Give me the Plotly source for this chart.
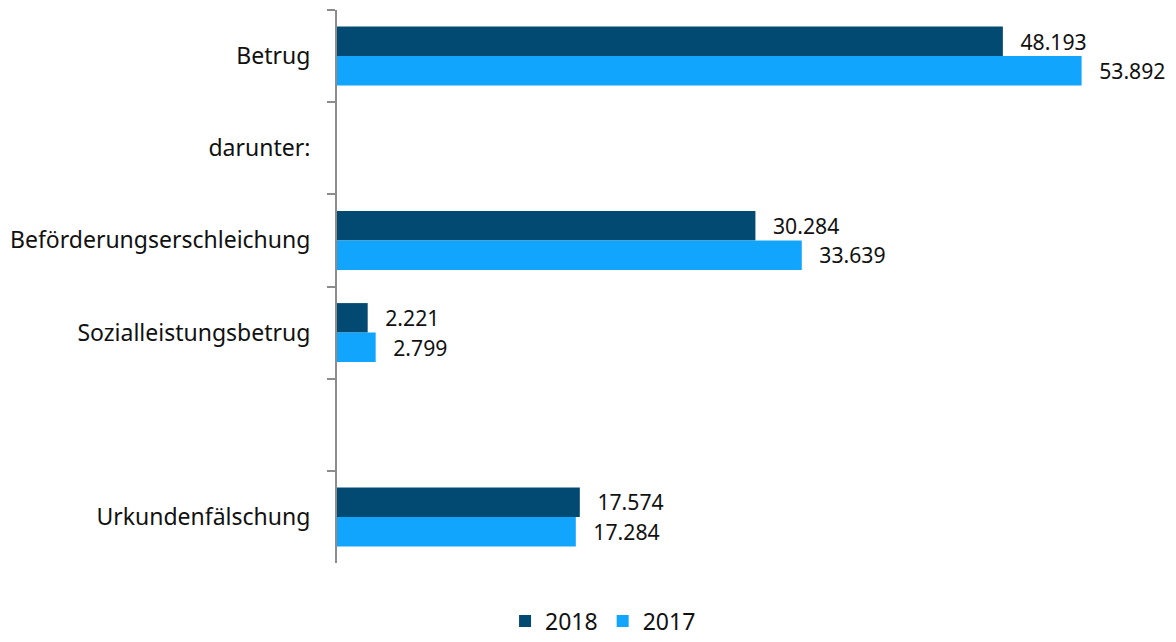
import plotly.graph_objects as go

categories = ["Betrug", "darunter:", "Beförderungserschleichung", "Sozialleistungsbetrug", " ", "Urkundenfälschung"]
values_2018 = [48193, None, 30284, 2221, None, 17574]
values_2017 = [53892, None, 33639, 2799, None, 17284]
series_names = ["2018", "2017"]
colors = ["#034A73", "#12A5FE"]

pad = "\u00a0\u00a0\u2009"
fig = go.Figure()
for name, vals, col in zip(series_names, [values_2018, values_2017], colors):
    fig.add_trace(go.Bar(
        y=categories, x=vals, name=name, orientation="h",
        marker=dict(color=col, line=dict(width=0)),
        texttemplate=pad + "%{x:,}", textposition="outside",
        textfont=dict(size=23, color="#111111"), cliponaxis=False,
    ))

fig.update_layout(
    width=1176, height=642,
    margin=dict(l=325, r=18, t=2, b=87),
    plot_bgcolor="white", paper_bgcolor="white",
    font=dict(family="Noto Sans", size=23, color="#111111"),
    barmode="group", bargap=0.36, bargroupgap=0,
    separators=",.",
    showlegend=True,
    legend=dict(orientation="h", xref="container", yref="container", x=0.506, xanchor="center",
                y=0.045, yanchor="middle", font=dict(size=23), traceorder="normal",
                itemwidth=30, tracegroupgap=0),
    xaxis=dict(range=[0, 60000], visible=False),
    yaxis=dict(autorange="reversed", showline=True, linecolor="#8c8c8c", linewidth=2,
               ticks="outside", tickson="boundaries", ticklen=8, tickcolor="#8c8c8c", tickwidth=2,
               ticklabelstandoff=20, showgrid=False, zeroline=False),
)

fig.write_html("out.html")
